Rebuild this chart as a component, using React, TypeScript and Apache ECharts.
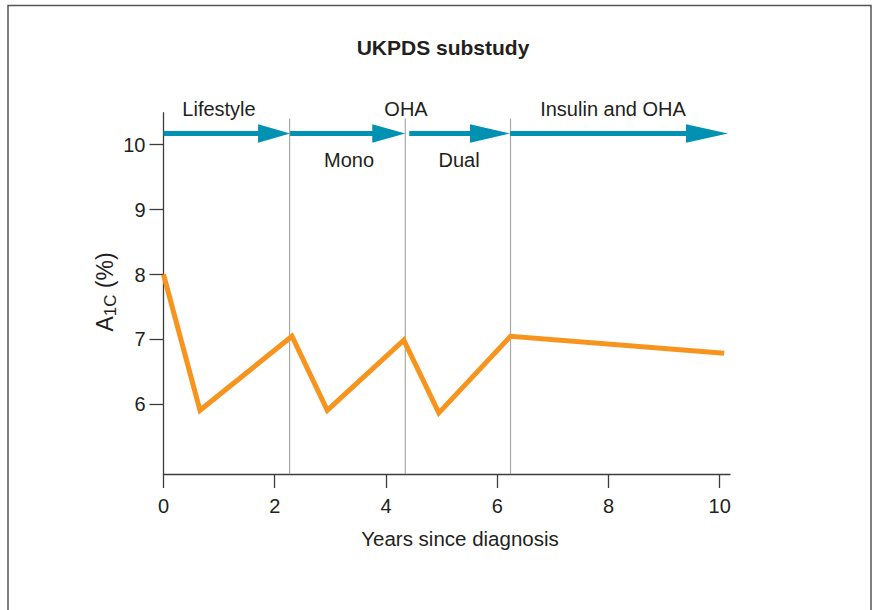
import React, { useEffect, useRef } from "react";
import * as echarts from "echarts";

// Data
const years = [0, 0.656, 2.31, 2.945, 4.32, 4.95, 6.24, 10.08];
const a1c = [8.0, 5.91, 7.05, 5.91, 6.99, 5.87, 7.05, 6.79];

const xTicks = [0, 2, 4, 6, 8, 10];
const yTicks = [6, 7, 8, 9, 10];

// therapy phase boundaries (years)
const phaseBoundaries = [2.267, 4.347, 6.239];

// arrows: [start year, end year, y level]
const arrowStarts = [0, 2.276, 4.418, 6.23];
const arrowEnds = [2.276, 4.346, 6.23, 10.149];
const arrowLevel = 10.17;
const boundaryTop = 10.4;

const phaseLabels = ["Lifestyle", "OHA", "Insulin and OHA"];
const subPhaseLabels = ["Mono", "Dual"];

const title = "UKPDS substudy";
const xTitle = "Years since diagnosis";

const FONT = "'Liberation Sans', Arial, Helvetica, sans-serif";
const TEXT = "#231f20";
const AXIS = "#3c3c3c";
const ORANGE = "#f7941d";
const BLUE = "#0091b3";
const headLens = [32, 33, 40, 42];

export default function App() {
  const ref = useRef<HTMLDivElement>(null);
  useEffect(() => {
    if (!ref.current) return;
    const chart = echarts.init(ref.current, null, { renderer: "svg" });
    const yMin = 4.93;
    const label = (text: string, x: number, y: number, size = 20, bold = false) => ({
      type: "text",
      x,
      y,
      style: {
        text,
        font: `${bold ? "bold " : ""}${size}px ${FONT}`,
        fill: TEXT,
        align: "center",
        verticalAlign: "middle",
      },
    });
    const option: any = {
      animation: false,
      backgroundColor: "#ffffff",
      textStyle: { fontFamily: FONT },
      grid: { left: 163.5, right: 142, top: 112.7, bottom: 136, containLabel: false },
      xAxis: {
        type: "value",
        min: 0,
        max: 10.185,
        axisLine: { show: true, lineStyle: { color: AXIS, width: 1.3 } },
        axisTick: { show: true, length: 14, customValues: xTicks, lineStyle: { color: AXIS, width: 1.3 } },
        axisLabel: { customValues: xTicks, margin: 22, fontSize: 20, color: TEXT, fontFamily: FONT },
        splitLine: { show: false },
      },
      yAxis: {
        type: "value",
        min: yMin,
        max: 10.49,
        axisLine: { show: true, lineStyle: { color: AXIS, width: 1.3 } },
        axisTick: { show: true, length: 14, customValues: yTicks, lineStyle: { color: AXIS, width: 1.3 } },
        axisLabel: { customValues: yTicks, margin: 18, fontSize: 20, color: TEXT, fontFamily: FONT },
        splitLine: { show: false },
      },
      graphic: [
        {
          type: "polyline",
          shape: { points: [[8, 610], [8, 5.5], [871, 5.5], [871, 610]] },
          style: { stroke: "#555", lineWidth: 1.5, fill: null },
          silent: true,
        },
        label(title, 443, 47, 21, true),
        label(phaseLabels[0], 219, 109),
        label(phaseLabels[1], 406, 109),
        label(phaseLabels[2], 613, 109),
        label(subPhaseLabels[0], 349, 160),
        label(subPhaseLabels[1], 459, 160),
        label(xTitle, 460, 538, 20.5),
        {
          type: "text",
          x: 105,
          y: 292,
          rotation: Math.PI / 2,
          style: {
            text: "{a|A}{s|1C}{a| (%)}",
            align: "center",
            verticalAlign: "middle",
            fill: TEXT,
            rich: {
              a: { fontSize: 23, fontFamily: FONT, fill: TEXT, lineHeight: 28 },
              s: { fontSize: 17, fontFamily: FONT, fill: TEXT, verticalAlign: "bottom", lineHeight: 20 },
            },
          },
        },
      ],
      series: [
        {
          type: "custom",
          name: "boundaries",
          z: 1,
          silent: true,
          data: phaseBoundaries.map((x) => [x]),
          renderItem: (params: any, api: any) => {
            const x = api.value(0);
            const p0 = api.coord([x, yMin]);
            const p1 = api.coord([x, boundaryTop]);
            return {
              type: "line",
              shape: { x1: p0[0], y1: p0[1], x2: p1[0], y2: p1[1] },
              style: { stroke: "#a8a8a8", lineWidth: 1.2 },
            };
          },
        },
        {
          type: "custom",
          name: "arrows",
          z: 3,
          silent: true,
          clip: false,
          data: arrowStarts.map((s, i) => [s, arrowEnds[i], arrowLevel]),
          renderItem: (params: any, api: any) => {
            const s = api.coord([api.value(0), api.value(2)]);
            const e = api.coord([api.value(1), api.value(2)]);
            const head = headLens[params.dataIndex];
            return {
              type: "group",
              children: [
                {
                  type: "rect",
                  shape: { x: s[0], y: s[1] - 2.6, width: e[0] - head - s[0] + 1, height: 5.2 },
                  style: { fill: BLUE },
                },
                {
                  type: "polygon",
                  shape: { points: [[e[0] - head, s[1] - 9.2], [e[0], s[1]], [e[0] - head, s[1] + 9.2]] },
                  style: { fill: BLUE },
                },
              ],
            };
          },
        },
        {
          type: "line",
          name: "A1C",
          z: 4,
          data: years.map((x, i) => [x, a1c[i]]),
          showSymbol: false,
          symbol: "none",
          lineStyle: { color: ORANGE, width: 5, join: "miter", cap: "butt" },
          clip: false,
        },
      ],
    };
    chart.setOption(option);
    return () => chart.dispose();
  }, []);
  return (
    <div
      ref={ref}
      style={{ position: "fixed", left: 0, top: 0, width: 872, height: 610, background: "#fff" }}
    />
  );
}
